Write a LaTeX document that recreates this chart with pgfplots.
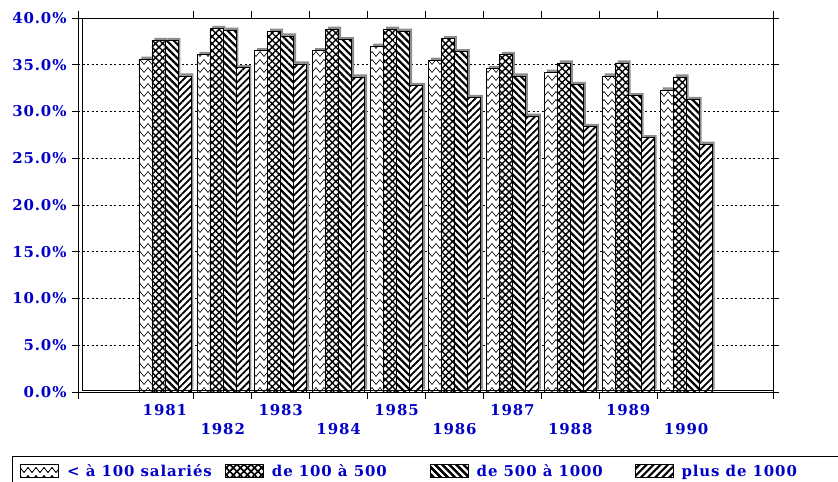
\documentclass[border=0pt]{standalone}
\usepackage{fontspec}
\setmainfont{DejaVu Serif}
\newfontfamily\lbfont[LetterSpace=6]{DejaVu Serif}
\usepackage{pgfplots}
\pgfplotsset{compat=1.18}
\usetikzlibrary{patterns,patterns.meta}

\definecolor{lbl}{RGB}{0,0,200}

\tikzdeclarepattern{
  name=zigzag, type=uncolored,
  bottom left={(-0.5bp,-0.5bp)}, top right={(8.5bp,8.5bp)},
  tile size={(8bp,8bp)},
  code={\draw[line width=0.6bp] (0bp,1.5bp) -- (4bp,6.5bp) -- (8bp,1.5bp);}
}

\tikzset{
  p1/.style={pattern=zigzag, pattern color=black},
  p2/.style={pattern={Hatch[angle=45,distance=5bp,line width=1.4bp]}},
  p3/.style={pattern={Lines[angle=-45,distance=5bp,line width=2.2bp]}},
  p4/.style={pattern={Lines[angle=45,distance=5bp,line width=1.8bp]}},
}
\pgfplotsset{
  barre/.style={draw=black, line width=0.5bp, fill=white, postaction={#1}},
  ombre/.style={forget plot, draw=none, fill=black!45, yshift=2.5bp},
  leg/.style={legend image code/.code={%
      \draw[black, line width=0.8bp, fill=white, postaction={#1}] (0bp,-6.5bp) rectangle (38bp,6.5bp);}},
}

% parts de chaque tranche d'effectif, 1981-1990
\pgfplotstableread{
annee  t1    t2    t3    t4
1981   35.6  37.6  37.6  33.8
1982   36.1  38.9  38.7  34.7
1983   36.5  38.6  38.1  35.1
1984   36.5  38.8  37.7  33.7
1985   37.0  38.8  38.6  32.8
1986   35.5  37.8  36.4  31.5
1987   34.6  36.1  33.8  29.5
1988   34.2  35.2  32.9  28.4
1989   33.8  35.2  31.7  27.2
1990   32.3  33.7  31.3  26.5
}\donnees

\begin{document}
\begin{tikzpicture}
\path[use as bounding box] (0,0) rectangle (838bp,482bp);
\begin{axis}[
    at={(78bp,90bp)}, anchor=south west,
    scale only axis, width=695bp, height=374bp,
    xmin=1979.5, xmax=1991.5, ymin=0, ymax=40,
    ybar=0pt, bar width=13bp,
    axis line style={line width=0.9bp},
    tick align=outside,
    tick style={black, line width=0.8bp},
    major tick length=6bp, minor tick length=7bp,
    major x tick style={draw=none},
    ytick={0,5,...,40},
    /pgf/number format/assume math mode=true,
    yticklabel={\pgfmathprintnumber[fixed,fixed zerofill,precision=1]{\tick}\%},
    yticklabel style={xshift=-2bp},
    xtick={1981,1983,...,1989},
    xticklabels={1981,1983,1985,1987,1989},
    xticklabel style={yshift=-3bp},
    minor xtick={1979.5,1981.5,1982.5,1983.5,1984.5,1985.5,1986.5,1987.5,1988.5,1989.5,1991.5},
    extra x ticks={1982,1984,...,1990},
    extra x tick labels={1982,1984,1986,1988,1990},
    extra x tick style={tick label style={yshift=-19bp}},
    ymajorgrids,
    grid style={black, line width=0.7bp, dash pattern=on 2bp off 2.5bp},
    tick label style={font=\lbfont\bfseries\fontsize{15}{18}\selectfont, text=lbl},
    legend columns=4,
    legend style={at={(axis description cs:-0.095,-0.1711)}, anchor=north west,
        draw=black, line width=0.8bp, inner xsep=8bp, inner ysep=6bp,
        font=\lbfont\bfseries\fontsize{15}{18}\selectfont, text=lbl,
        /tikz/every odd column/.append style={column sep=6bp},
        /tikz/every even column/.append style={column sep=6bp}},
    legend cell align=left,
]
\addplot[ombre, bar shift=-17bp] table[x=annee, y=t1] {\donnees};
\addplot[barre=p1, leg=p1, bar shift=-19.5bp] table[x=annee, y=t1] {\donnees};
\addplot[ombre, bar shift=-4bp] table[x=annee, y=t2] {\donnees};
\addplot[barre=p2, leg=p2, bar shift=-6.5bp] table[x=annee, y=t2] {\donnees};
\addplot[ombre, bar shift=9bp] table[x=annee, y=t3] {\donnees};
\addplot[barre=p3, leg=p3, bar shift=6.5bp] table[x=annee, y=t3] {\donnees};
\addplot[ombre, bar shift=22bp] table[x=annee, y=t4] {\donnees};
\addplot[barre=p4, leg=p4, bar shift=19.5bp] table[x=annee, y=t4] {\donnees};
\legend{\makebox[150bp][l]{< à 100 salariés},\makebox[150bp][l]{de 100 à 500},
        \makebox[150bp][l]{de 500 à 1000},\makebox[170bp][l]{plus de 1000}}
\end{axis}
\draw[line width=0.8bp] (82bp,92bp) -- (82bp,464bp);
\draw[line width=0.8bp] (82bp,92bp) -- (773bp,92bp);
\end{tikzpicture}
\end{document}
